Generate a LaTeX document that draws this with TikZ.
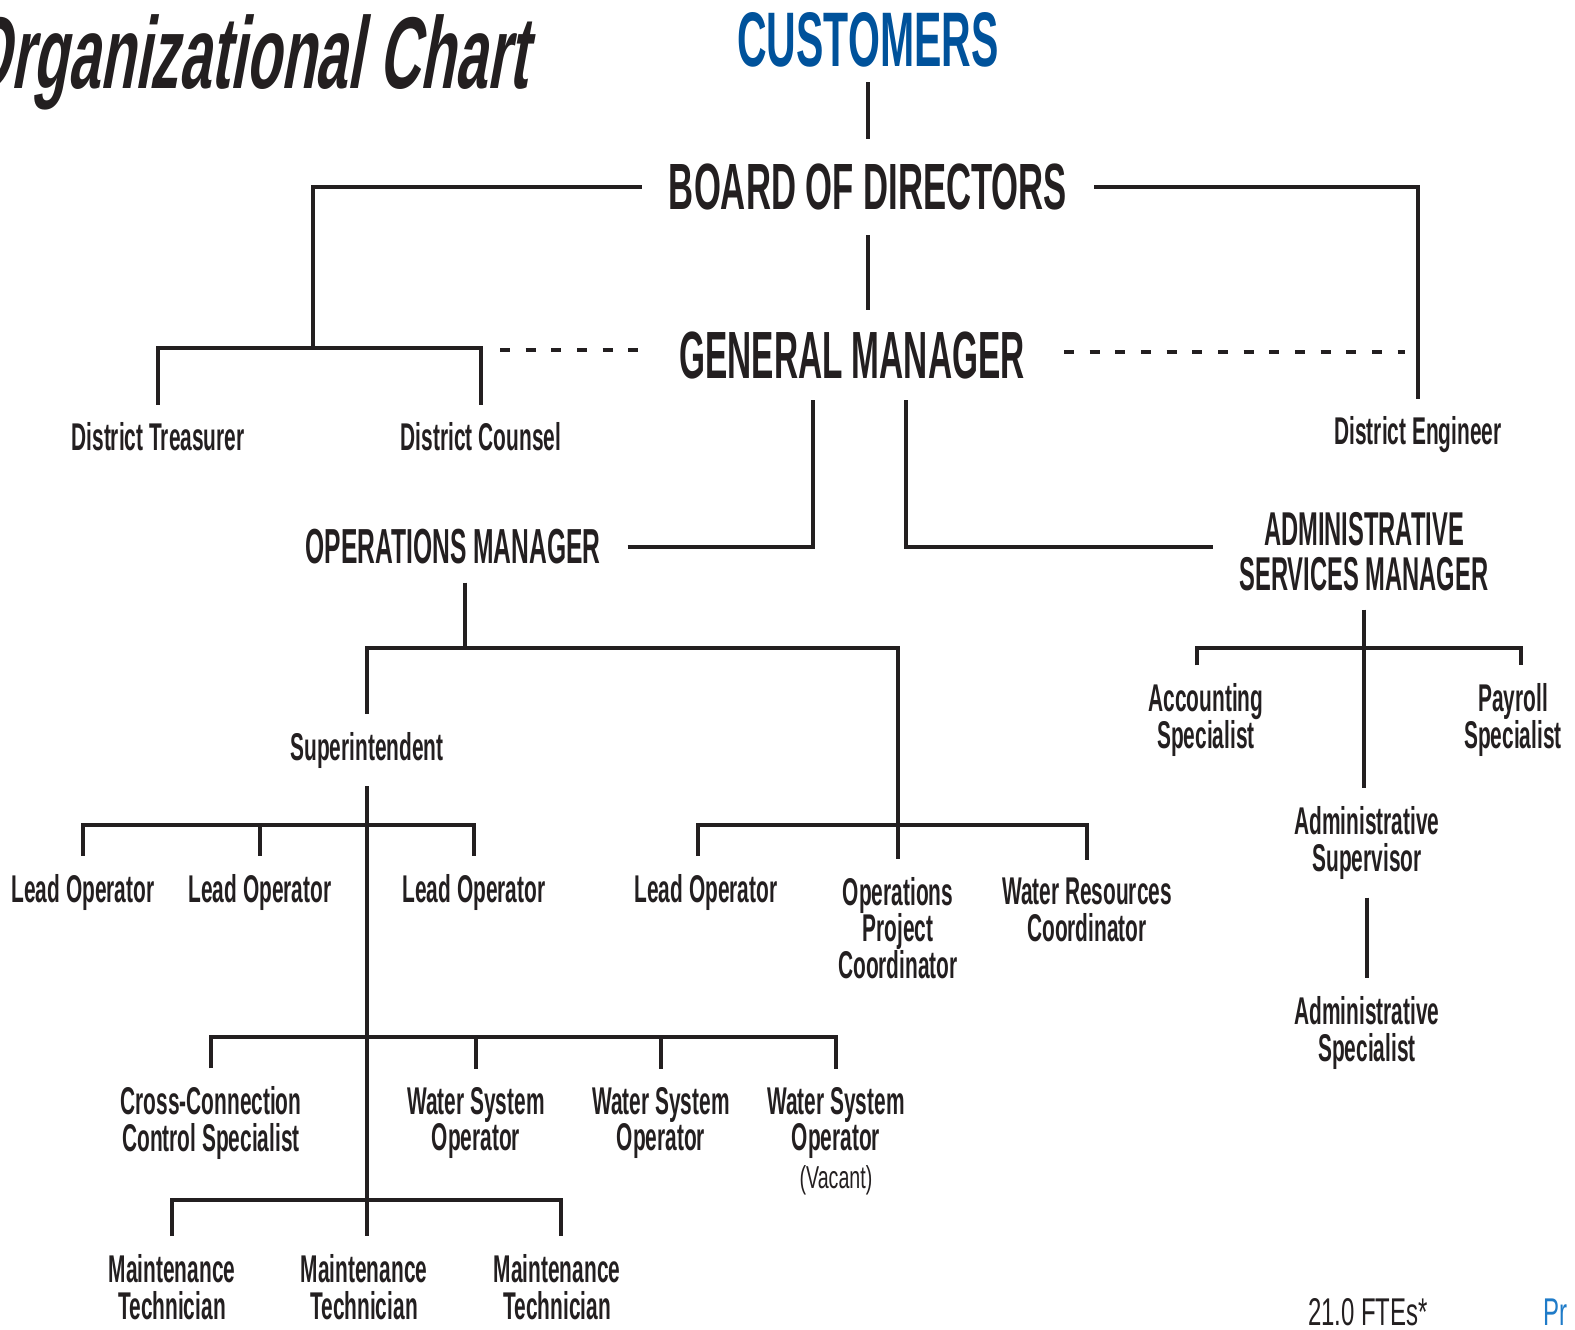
\documentclass[tikz,border=0pt]{standalone}
\usepackage{fontspec}
\usetikzlibrary{calc}
\newfontfamily\headfont[FakeStretch=0.5]{Liberation Sans}
\newfontfamily\topfont[FakeStretch=0.53]{Liberation Sans}
\newfontfamily\rolefont[FakeStretch=0.54]{Liberation Sans}
\newfontfamily\notefont[FakeStretch=0.62]{Liberation Sans}
\newfontfamily\titlefont[FakeStretch=0.56,FakeSlant=0.18]{Liberation Sans}
\definecolor{inkdark}{HTML}{231F20}
\definecolor{custblue}{HTML}{00529B}
\definecolor{linkblue}{HTML}{1F7BC8}

\begin{document}
\begin{tikzpicture}[x=0.01cm, y=-0.01cm,
    line/.style={draw=inkdark, line width=1.4pt},
    gmdash/.style={draw=inkdark, line width=1.4pt, dash pattern=on 2.8pt off 4.5pt},
    head/.style={text=inkdark, inner xsep=7.5pt, inner ysep=5pt, align=center,
        font=\headfont\bfseries\fontsize{#1}{12.8pt}\selectfont},
    tophead/.style={text=inkdark, inner xsep=7.5pt, inner ysep=5pt, align=center,
        font=\topfont\bfseries\fontsize{#1}{12.8pt}\selectfont},
    role/.style={text=inkdark, inner sep=5pt, align=center,
        font=\rolefont\bfseries\fontsize{11pt}{10.4pt}\selectfont}]
    \useasboundingbox (0,0) rectangle (1575,1330);

    % title and top of the chart
    \node[anchor=base east, text=inkdark, font=\titlefont\bfseries\fontsize{29pt}{30pt}\selectfont] at (540,88) (title) {Organizational Chart};
    \node[tophead=22pt, text=custblue, inner ysep=4pt] at (868,40) (cust) {CUSTOMERS};
    \node[tophead=18.6pt, inner ysep=7pt] at (868,187) (board) {BOARD OF DIRECTORS};
    \node[head=19pt, inner xsep=11pt, inner ysep=6pt] at (852,355) (gm) {GENERAL MANAGER};
    \node[role] at (158,437) (treas) {District Treasurer};
    \node[role] at (481,437) (counsel) {District Counsel};
    \node[role] at (1418,435) (engineer) {District Engineer};
    \node[head=14pt] at (453,547) (opsmgr) {OPERATIONS MANAGER};
    \node[head=13.5pt] at (1364,552) (adminmgr) {ADMINISTRATIVE\\SERVICES MANAGER};

    % operations side
    \node[role] at (367,750) (supt) {Superintendent};
    \node[role] at (83,892) (lead1) {Lead Operator};
    \node[role] at (260,892) (lead2) {Lead Operator};
    \node[role] at (474,892) (lead3) {Lead Operator};
    \node[role] at (706,892) (lead4) {Lead Operator};
    \node[role] at (898,928) (opc) {Operations\\Project\\Coordinator};
    \node[role] at (1087,910) (wrc) {Water Resources\\Coordinator};
    \node[role] at (211,1123) (ccs) {Cross-Connection\\Control Specialist};
    \node[role] at (476,1123) (wso1) {Water System\\Operator};
    \node[role] at (661,1123) (wso2) {Water System\\Operator};
    \node[role] at (836,1123) (wso3) {Water System\\Operator};
    \node[text=inkdark, font=\notefont\fontsize{9pt}{10pt}\selectfont] at (836,1180) (vacant) {(Vacant)};
    \node[role] at (172,1287) (mt1) {Maintenance\\Technician};
    \node[role] at (364,1287) (mt2) {Maintenance\\Technician};
    \node[role] at (557,1287) (mt3) {Maintenance\\Technician};

    % administrative side
    \node[role] at (1206,720) (acct) {Accounting\\Specialist};
    \node[role] at (1513,720) (payroll) {Payroll\\Specialist};
    \node[role] at (1367,843) (adminsup) {Administrative\\Supervisor};
    \node[role] at (1367,1033) (adminspec) {Administrative\\Specialist};

    \node[anchor=base, text=inkdark, font=\notefont\fontsize{11pt}{12pt}\selectfont] at (1368,1325) (fte) {21.0 FTEs*};
    \node[anchor=base west, inner sep=0pt, text=linkblue, font=\notefont\fontsize{11pt}{12pt}\selectfont] at (1543,1325) (pr) {Pr};

    % junctions
    \coordinate (tc) at (313,348);
    \coordinate (dashL) at (500,350);
    \coordinate (dashR) at (1405,352);
    \coordinate (opsbar) at (465,648);
    \coordinate (leadbar) at (368,825);
    \coordinate (opsbar2) at (897,825);
    \coordinate (wsobar) at (368,1037);
    \coordinate (mtbar) at (368,1200);
    \coordinate (acctbar) at (1364,648);

    \draw[line] (cust) -- (board);
    \draw[line] (board) -- (board |- gm.north);
    \draw[line] (board.west) -| (tc);
    \draw[line] (treas.north) |- (tc) -| (counsel.north);
    \draw[line] (board.east) -| (engineer.north);
    \draw[gmdash] (dashL) -- (dashL -| gm.west);
    \draw[gmdash] (gm.east |- dashR) -- (dashR);
    \draw[line] (opsmgr.east) -| ($(gm.south)+(-39,0)$);
    \draw[line] ($(gm.south)+(54,0)$) |- (opsmgr.east -| adminmgr.west);

    \draw[line] ($(opsmgr.south)+(12,0)$) -- (opsbar);
    \draw[line] (supt.north) |- (opsbar) -| (opc.north);
    \draw[line] (supt.south) -- (supt.south |- mt2.north);
    \draw[line] (lead1.north) |- (leadbar) -| (lead3.north);
    \draw[line] (lead2.north) -- (lead2.north |- leadbar);
    \draw[line] ($(lead4.north)+(-8,0)$) |- (opsbar2) -| (wrc.north);
    \draw[line] (ccs.north) |- (wsobar) -| (wso3.north);
    \draw[line] (wso1.north) -- (wso1.north |- wsobar);
    \draw[line] (wso2.north) -- (wso2.north |- wsobar);
    \draw[line] (mt1.north) |- (mtbar) -| ($(mt3.north)+(4,0)$);

    \draw[line] (adminmgr.south) -- (adminmgr.south |- adminsup.north);
    \draw[line] ($(acct.north)+(-9,0)$) |- (acctbar) -| ($(payroll.north)+(8,0)$);
    \draw[line] (adminsup.south) -- (adminsup.south |- adminspec.north);
\end{tikzpicture}
\end{document}
